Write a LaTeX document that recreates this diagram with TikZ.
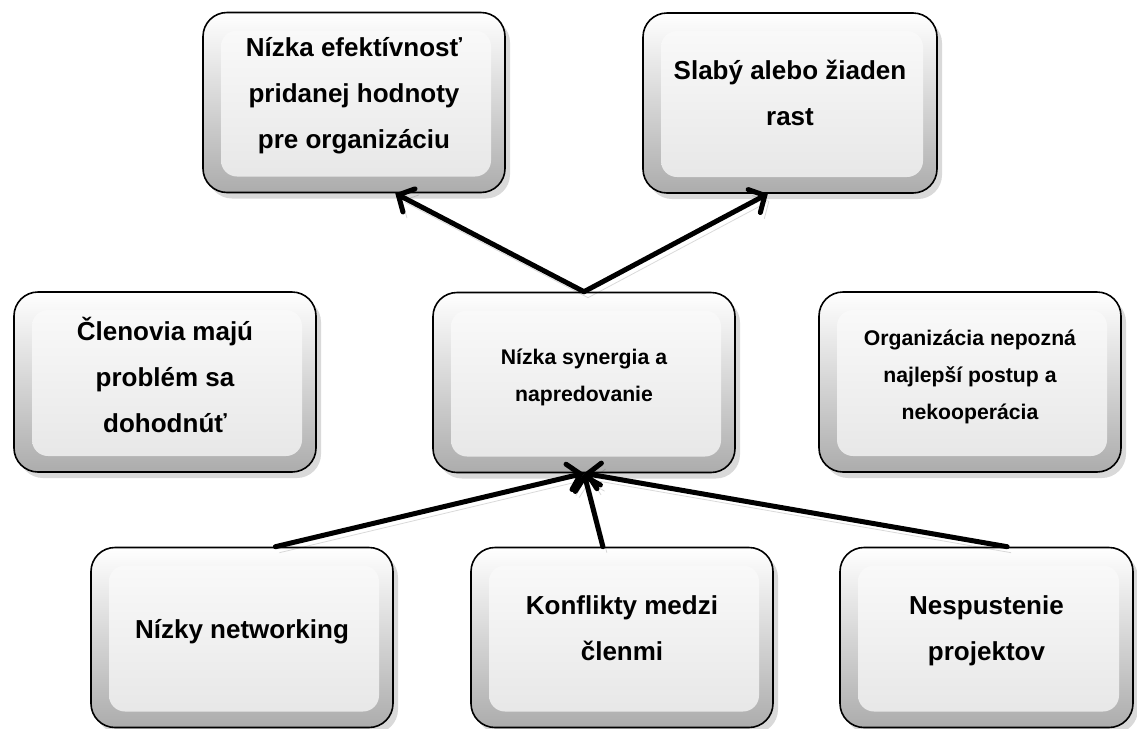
\documentclass[tikz,border=0pt]{standalone}
\usepackage{fontspec}
\setmainfont{Liberation Sans}
\usetikzlibrary{arrows.meta,calc,shadows}

\tikzset{
  tile/.style={draw=black, line width=0.8pt, rounded corners=12pt, align=center,
    minimum width=151pt, minimum height=90pt, inner sep=0pt,
    top color=white, bottom color=gray!65,
    drop shadow={shadow xshift=2.5pt, shadow yshift=-3pt, opacity=0.3},
    font=\bfseries\fontsize{13}{23}\selectfont,
    path picture={\shade[top color=gray!3, bottom color=gray!20, rounded corners=8pt]
      ([shift={(9pt,-9pt)}]path picture bounding box.north west) rectangle
      ([shift={(-7pt,8pt)}]path picture bounding box.south east);}},
  small/.style={font=\bfseries\fontsize{10.6}{18.5}\selectfont},
  lift/.style={text depth=#1},
  link/.style={line width=2.5pt, line cap=round,
    -{Straight Barb[length=6pt,width=13pt,line cap=round]},
    preaction={draw=black, opacity=0.15, transform canvas={shift={(2pt,-3pt)}}}}
}

\begin{document}
\begin{tikzpicture}[x=0.5pt,y=-0.5pt]
    \useasboundingbox (0,0) rectangle (1137,729);
    % effects
    \node[tile, lift=10pt] (eff) at (354,102.5) {Nízka efektívnosť\\pridanej hodnoty\\pre organizáciu};
    \node[tile, lift=10pt, minimum width=147pt] (rast) at (790,103) {Slabý alebo žiaden\\rast};
    % middle row
    \node[tile, lift=7pt] (dohoda) at (165,382) {Členovia majú\\problém sa\\dohodnúť};
    \node[tile, small, lift=7pt] (synerg) at (584,382.5) {Nízka synergia a\\napredovanie};
    \node[tile, small, lift=7pt] (postup) at (970,382) {Organizácia nepozná\\najlepší postup a\\nekooperácia};
    % causes
    \node[tile, lift=9pt] (netw) at (242,637.5) {Nízky networking};
    \node[tile, lift=9pt] (konfl) at (622,637.5) {Konflikty medzi\\členmi};
    \node[tile, lift=9pt, minimum width=146.5pt] (projekt) at (986.5,637.5) {Nespustenie\\projektov};
    % arrows up to the effects
    \draw[link] (synerg.north) -- ($(eff.south west)!0.636!(eff.south east)$);
    \draw[link] (synerg.north) -- ($(rast.south west)!0.425!(rast.south east)$);
    % arrows from the causes
    \draw[link] ($(netw.north west)!0.61!(netw.north east)$) -- (synerg.south);
    \draw[link] ($(konfl.north west)!0.437!(konfl.north east)$) -- (synerg.south);
    \draw[link] ($(projekt.north west)!0.57!(projekt.north east)$) -- (synerg.south);
\end{tikzpicture}
\end{document}
